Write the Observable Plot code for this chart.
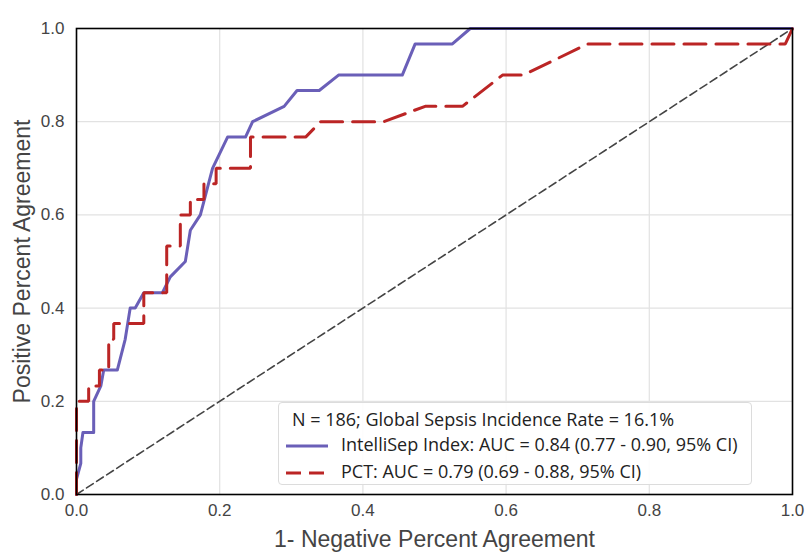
<!DOCTYPE html>
<html><head><meta charset="utf-8">
<script src="https://cdn.jsdelivr.net/npm/d3@7"></script>
<script src="https://cdn.jsdelivr.net/npm/@observablehq/plot@0.6"></script>
<style>
body{margin:0;background:#fff;}
#wrap{position:relative;width:808px;height:556px;}
#wrap svg{font-family:"Liberation Sans",Arial,sans-serif;}
g[aria-label="x-axis label"] text, g[aria-label="y-axis label"] text{font-size:23px;fill:#444;}
#legend{position:absolute;left:278px;top:402px;width:474px;height:83px;box-sizing:border-box;border:1px solid #dcdcdc;border-radius:4px;background:rgba(255,255,255,0.9);font-family:"Open Sans",sans-serif;font-size:18px;color:#222;}
.row{position:absolute;left:0;white-space:nowrap;line-height:22px;}
.row svg{vertical-align:middle;}
</style>
</head><body>
<div id="wrap"></div>
<script>
// IntelliSep Index ROC points (1-NPA, PPA)
const intelliFpr = [0,0,0.006,0.006,0.009,0.024,0.024,0.034,0.038,0.057,0.068,0.075,0.082,0.094,0.12,0.131,0.152,0.159,0.173,0.19,0.211,0.236,0.246,0.29,0.308,0.339,0.366,0.455,0.473,0.525,0.55,1];
const intelliTpr = [0,0.033,0.067,0.1,0.133,0.133,0.2,0.233,0.267,0.267,0.333,0.4,0.4,0.433,0.433,0.467,0.5,0.567,0.6,0.7,0.767,0.767,0.8,0.833,0.867,0.867,0.9,0.9,0.967,0.967,1,1];
// PCT ROC points
const pctFpr = [0,0,0.017,0.017,0.032,0.032,0.045,0.045,0.052,0.052,0.094,0.094,0.126,0.126,0.145,0.145,0.159,0.159,0.178,0.178,0.195,0.195,0.243,0.243,0.32,0.341,0.429,0.487,0.539,0.595,0.624,0.714,0.99,1];
const pctTpr = [0,0.2,0.2,0.233,0.233,0.267,0.267,0.333,0.333,0.367,0.367,0.433,0.433,0.533,0.533,0.6,0.6,0.633,0.633,0.667,0.667,0.7,0.7,0.767,0.767,0.8,0.8,0.833,0.833,0.9,0.9,0.967,0.967,1];
// chance line
const chanceX = [0,1];
const chanceY = [0,1];
const tickValues = [0,0.2,0.4,0.6,0.8,1.0];
const xLabel = "1- Negative Percent Agreement";
const yLabel = "Positive Percent Agreement";
const legendTitle = "N = 186; Global Sepsis Incidence Rate = 16.1%";
const seriesNames = ["IntelliSep Index: AUC = 0.84 (0.77 - 0.90, 95% CI)", "PCT: AUC = 0.79 (0.69 - 0.88, 95% CI)"];
const colors = ["#6a5fb8", "#bb2525"];

const idx = a => a.map((_, i) => i);

const chart = Plot.plot({
  width: 808, height: 556,
  marginLeft: 76, marginRight: 16, marginTop: 28, marginBottom: 62,
  x: {domain: [0, 1]},
  y: {domain: [0, 1]},
  marks: [
    Plot.gridX(tickValues, {stroke: "#e2e2e2", strokeOpacity: 1, strokeWidth: 1.2}),
    Plot.gridY(tickValues, {stroke: "#e2e2e2", strokeOpacity: 1, strokeWidth: 1.2}),
    Plot.axisX({ticks: tickValues, tickFormat: d3.format(".1f"), tickSize: 0, tickPadding: 9, fontSize: 17, fill: "#444",
      label: xLabel, labelAnchor: "center", labelArrow: "none", labelOffset: 52}),
    Plot.axisY({ticks: tickValues, tickFormat: d3.format(".1f"), tickSize: 0, tickPadding: 12, fontSize: 17, fill: "#444",
      label: yLabel, labelAnchor: "center", labelArrow: "none", labelOffset: 63}),
    Plot.line(idx(chanceX), {x: i => chanceX[i], y: i => chanceY[i], stroke: "#444", strokeWidth: 1.6, strokeDasharray: "8,4"}),
    Plot.line(idx(intelliFpr), {x: i => intelliFpr[i], y: i => intelliTpr[i], stroke: colors[0], strokeWidth: 3, strokeLinejoin: "round"}),
    Plot.line(idx(pctFpr), {x: i => pctFpr[i], y: i => pctTpr[i], stroke: colors[1], strokeWidth: 3, strokeDasharray: "22,10", strokeLinejoin: "miter"}),
    Plot.frame({stroke: "#000", strokeWidth: 1.6})
  ]
});
const wrap = document.getElementById("wrap");
wrap.appendChild(chart);

const legend = document.createElement("div");
legend.id = "legend";
legend.innerHTML = `
 <div class="row" style="top:5px;left:13px">${legendTitle}</div>
 <div class="row" style="top:30px;left:6px"><svg width="44" height="6"><line x1="1" x2="43" y1="3" y2="3" stroke="${colors[0]}" stroke-width="3"/></svg><span style="margin-left:12px">${seriesNames[0]}</span></div>
 <div class="row" style="top:57px;left:6px"><svg width="44" height="6"><line x1="1" x2="43" y1="3" y2="3" stroke="${colors[1]}" stroke-width="3" stroke-dasharray="15,8"/></svg><span style="margin-left:12px">${seriesNames[1]}</span></div>`;
wrap.appendChild(legend);
</script>
</body></html>
